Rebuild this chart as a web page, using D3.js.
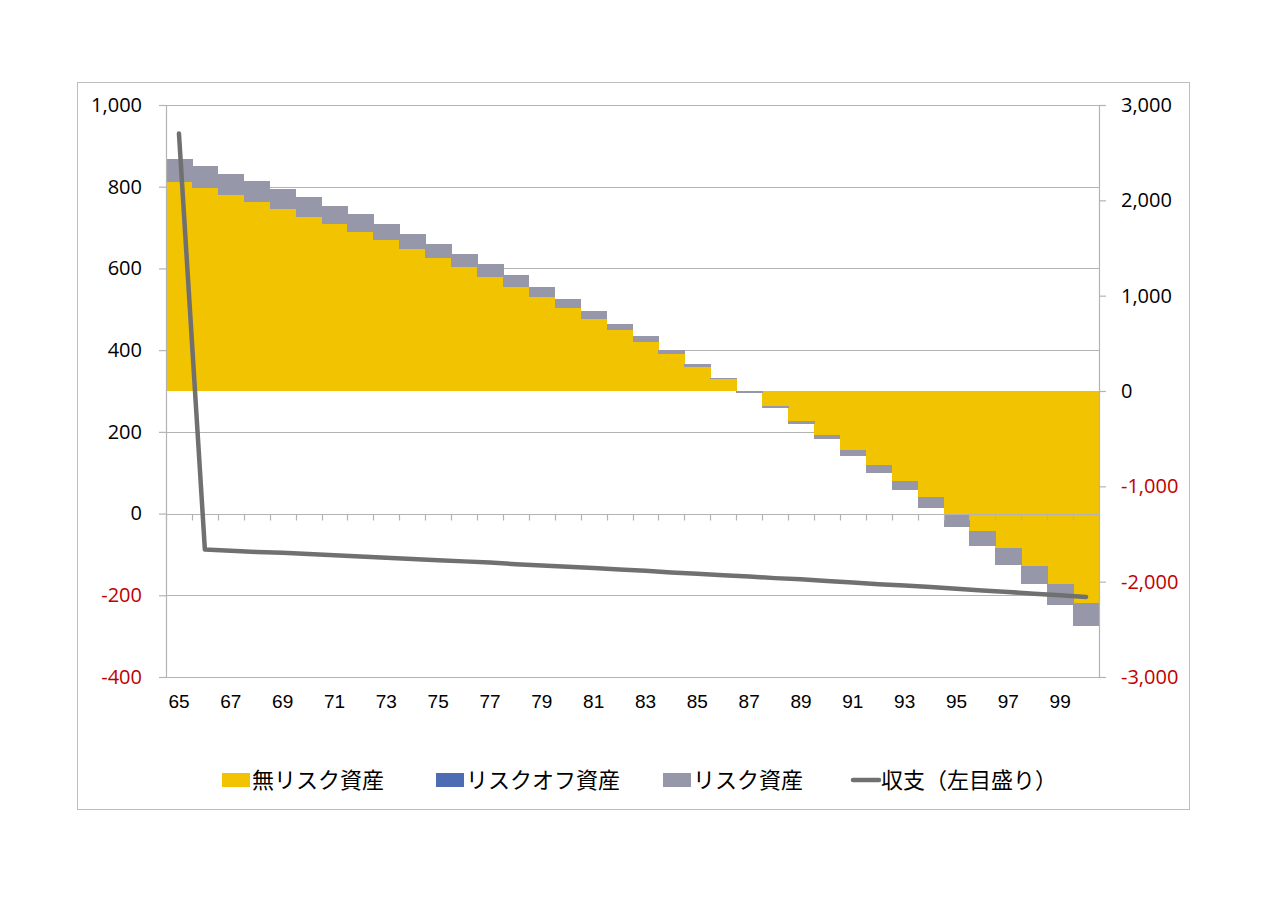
<!DOCTYPE html>
<html>
<head>
<meta charset="utf-8">
<script src="https://cdn.jsdelivr.net/npm/d3@7"></script>
<style>
  html, body { margin: 0; padding: 0; background: #ffffff; }
  svg { display: block; }
</style>
</head>
<body>
<svg id="chart" width="1280" height="905"></svg>
<script>
// ---- data ----
const ages = [65,66,67,68,69,70,71,72,73,74,75,76,77,78,79,80,81,82,83,84,85,86,87,88,89,90,91,92,93,94,95,96,97,98,99,100];
const tickLabelAges = [65,67,69,71,73,75,77,79,81,83,85,87,89,91,93,95,97,99];
const riskFreeAssets = [2189,2126,2056,1986,1909,1829,1752,1671,1581,1486,1398,1301,1199,1094,989,874,755,636,514,388,255,122,-5,-157,-311,-462,-616,-780,-941,-1109,-1290,-1465,-1643,-1836,-2025,-2227];
const riskOffAssets = [0,0,0,0,0,0,0,0,0,0,0,0,0,0,0,0,0,0,0,0,0,0,0,0,0,0,0,0,0,0,0,0,0,0,0,0];
const riskAssets = [245,237,224,217,210,203,192,182,174,164,148,140,130,120,105,93,84,70,58,42,28,14,-12,-21,-32,-45,-66,-84,-101,-122,-133,-158,-182,-192,-220,-238];
const balance = [930,-88,-91,-94,-96,-99,-102,-105,-108,-111,-114,-117,-120,-124,-127,-130,-133,-137,-140,-144,-147,-151,-154,-158,-161,-165,-169,-173,-176,-180,-184,-188,-192,-196,-200,-204];
const leftTicks = [-400,-200,0,200,400,600,800,1000];
const rightTicks = [-3000,-2000,-1000,0,1000,2000,3000];
const seriesNames = ["無リスク資産","リスクオフ資産","リスク資産","収支（左目盛り）"];
const seriesColors = ["#F2C300","#4E6CB3","#9698A9","#707070"];

// ---- build table ----
const keys = ["riskFree","riskOff","risk"];
const table = ages.map((a,i) => ({age:a, riskFree:riskFreeAssets[i], riskOff:riskOffAssets[i], risk:riskAssets[i]}));

const svg = d3.select("#chart");
const plot = {left:166, right:1099, top:105, bottom:677};

// outer border
svg.append("rect").attr("x",77.5).attr("y",82.5).attr("width",1112).attr("height",727)
  .attr("fill","#fff").attr("stroke","#BDBDBD").attr("stroke-width",1);

const x = d3.scaleBand().domain(ages).range([plot.left, plot.right]).padding(0);
const yL = d3.scaleLinear().domain([-400,1000]).range([plot.bottom, plot.top]);
const yR = d3.scaleLinear().domain([-3000,3000]).range([plot.bottom, plot.top]);

const locale = d3.formatLocale({decimal:".", thousands:",", grouping:[3], currency:["",""], minus:"-"});
const fmt = locale.format(",");
const gridColor = "#B3B3B3";
const numFont = "'Open Sans', 'Noto Sans', sans-serif";

// gridlines (left axis)
svg.append("g").selectAll("line").data(leftTicks).join("line")
  .attr("x1",plot.left).attr("x2",plot.right)
  .attr("y1",d=>Math.round(yL(d))+0.5).attr("y2",d=>Math.round(yL(d))+0.5)
  .attr("stroke",gridColor).attr("stroke-width",1.2);

// stacked bars on right axis
const stacked = d3.stack().keys(keys).offset(d3.stackOffsetDiverging)(table);
const gBars = svg.append("g").attr("shape-rendering","crispEdges");
stacked.forEach((layer,li) => {
  gBars.append("g").attr("fill",seriesColors[li])
    .selectAll("rect").data(layer).join("rect")
    .attr("x",d=>x(d.data.age))
    .attr("width",x.bandwidth()+0.6)
    .attr("y",d=>yR(Math.max(d[0],d[1])))
    .attr("height",d=>Math.abs(yR(d[0])-yR(d[1])));
});

// left axis
const axL = svg.append("g").attr("transform",`translate(${plot.left},0)`)
  .call(d3.axisLeft(yL).tickValues(leftTicks).tickSize(7).tickPadding(17).tickFormat(fmt));
axL.select(".domain").attr("stroke",gridColor).attr("stroke-width",1.2);
axL.selectAll(".tick line").attr("stroke",gridColor).attr("stroke-width",1.2);
axL.selectAll(".tick text").attr("font-family",numFont).attr("font-size",20)
  .attr("fill",d=>d<0?"#C00000":"#000");

// right axis
const axR = svg.append("g").attr("transform",`translate(${plot.right},0)`)
  .call(d3.axisRight(yR).tickValues(rightTicks).tickSize(7).tickPadding(15).tickFormat(fmt));
axR.select(".domain").attr("stroke",gridColor).attr("stroke-width",1.2);
axR.selectAll(".tick line").attr("stroke",gridColor).attr("stroke-width",1.2);
axR.selectAll(".tick text").attr("font-family",numFont).attr("font-size",20)
  .attr("fill",d=>d<0?"#C00000":"#000");

// category axis line at left 0, with ticks between categories
const y0 = Math.round(yL(0))+0.5;
const gX = svg.append("g");
gX.append("line").attr("x1",plot.left).attr("x2",plot.right).attr("y1",y0).attr("y2",y0)
  .attr("stroke",gridColor).attr("stroke-width",1.2);
const boundaries = ages.map(a=>x(a)).concat([x.range()[1]]);
gX.selectAll("line.tk").data(boundaries).join("line").attr("class","tk")
  .attr("x1",d=>Math.round(d)+0.5).attr("x2",d=>Math.round(d)+0.5)
  .attr("y1",y0).attr("y2",y0+6)
  .attr("stroke",gridColor).attr("stroke-width",1.2);

// category labels (low position)
const axB = svg.append("g").attr("transform",`translate(0,${plot.bottom+10})`)
  .call(d3.axisBottom(x).tickValues(tickLabelAges).tickSize(0).tickPadding(8));
axB.select(".domain").remove();
axB.selectAll(".tick text").attr("font-family","'Liberation Sans Narrow', 'Liberation Sans', sans-serif")
  .attr("font-size",19).attr("fill","#000");

// balance line on left axis
const line = d3.line().x((d,i)=>x(ages[i])+x.bandwidth()/2).y(d=>yL(d));
svg.append("path").datum(balance).attr("d",line)
  .attr("fill","none").attr("stroke",seriesColors[3]).attr("stroke-width",4.5)
  .attr("stroke-linecap","round").attr("stroke-linejoin","round");

// legend
const legendItems = [
  {name:seriesNames[0], color:seriesColors[0], x:222, type:"rect"},
  {name:seriesNames[1], color:seriesColors[1], x:436, type:"rect"},
  {name:seriesNames[2], color:seriesColors[2], x:663, type:"rect"},
  {name:seriesNames[3], color:seriesColors[3], x:851, type:"line"}
];
const ly = 780;
const gL = svg.append("g");
legendItems.forEach(it => {
  if (it.type === "rect") {
    gL.append("rect").attr("x",it.x).attr("y",ly-7).attr("width",28).attr("height",14).attr("fill",it.color);
  } else {
    gL.append("line").attr("x1",it.x+2).attr("x2",it.x+28).attr("y1",ly).attr("y2",ly)
      .attr("stroke",it.color).attr("stroke-width",4.5).attr("stroke-linecap","round");
  }
  gL.append("text").attr("x",it.x+30).attr("y",ly).attr("dy","0.36em")
    .attr("font-family","'Noto Sans CJK JP', sans-serif").attr("font-size",22).attr("fill","#000")
    .text(it.name);
});
</script>
</body>
</html>
